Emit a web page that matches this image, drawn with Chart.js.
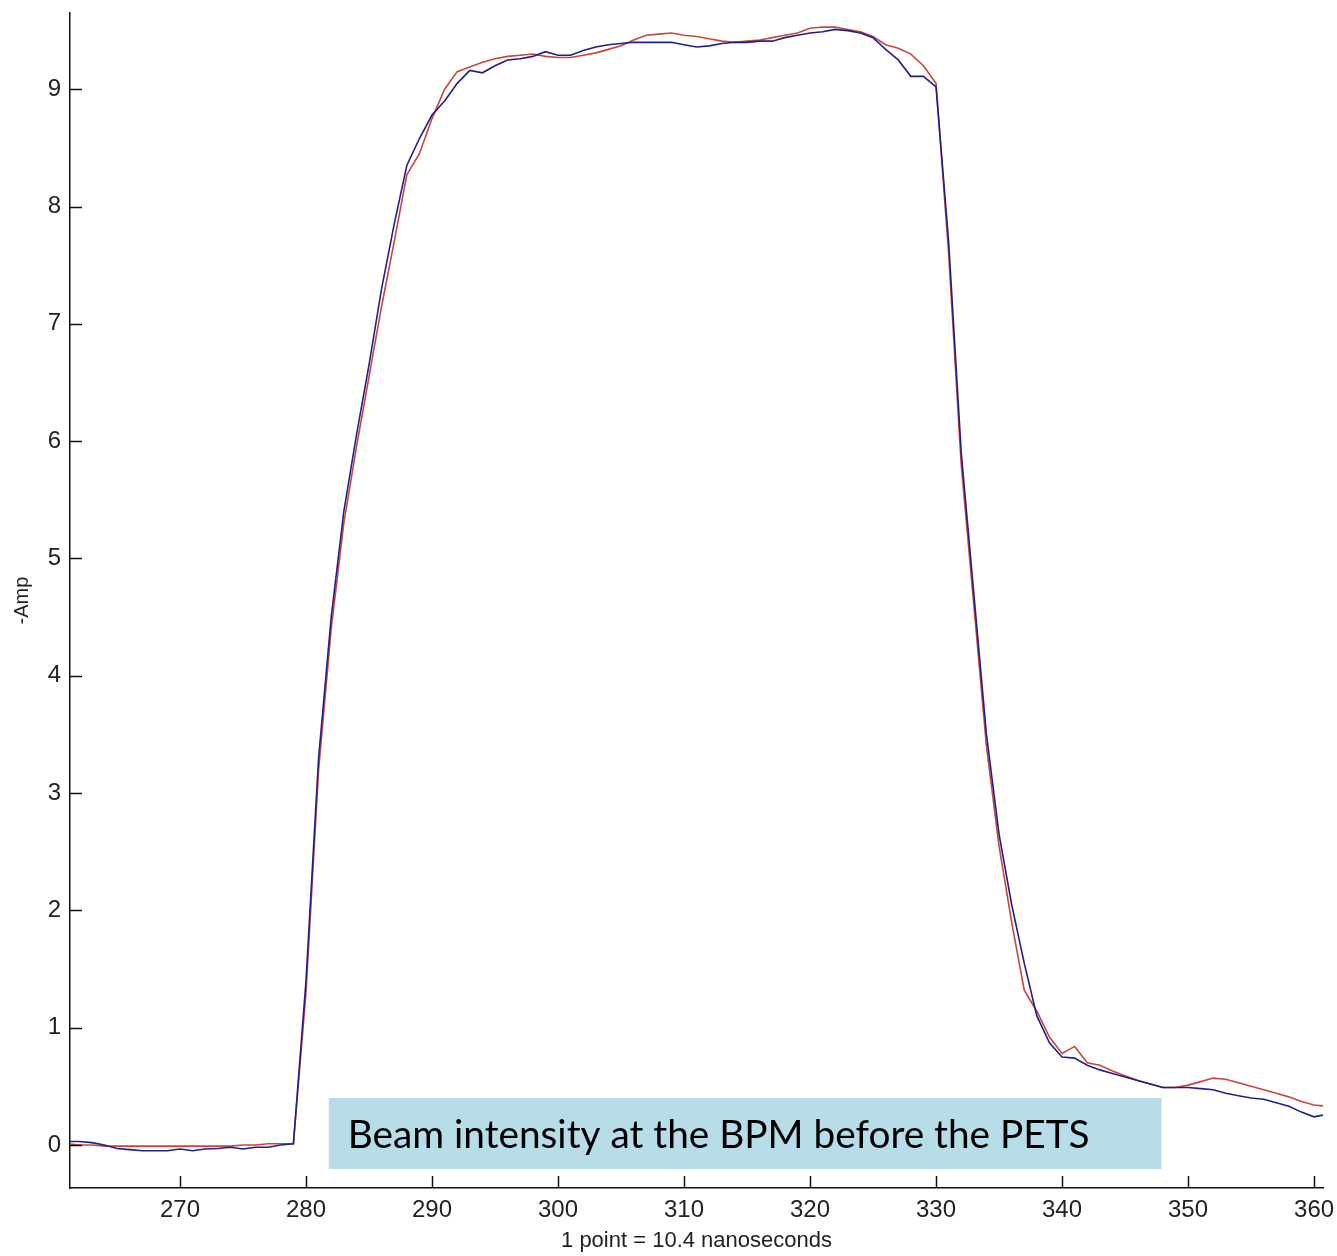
<!DOCTYPE html>
<html>
<head>
<meta charset="utf-8">
<script src="https://cdn.jsdelivr.net/npm/chart.js@4.4.1/dist/chart.umd.min.js"></script>
<style>
  body { margin: 0; background: #fff; }
  #wrap { width: 1337px; height: 1256px; position: relative; }
</style>
</head>
<body>
<div id="wrap"><canvas id="chart"></canvas></div>
<script>
// sample numbers start at 261, one value per point
var startPoint = 261;

var blueValues = [
  0.03, 0.03, 0.02, 0.0, -0.03, -0.04, -0.05, -0.05, -0.05, -0.035,
  -0.05, -0.035, -0.03, -0.02, -0.035, -0.02, -0.02, 0.0, 0.01,
  1.4, 3.3, 4.5, 5.4, 6.05, 6.65, 7.3, 7.85, 8.35, 8.58, 8.78,
  8.9, 9.05, 9.16, 9.14, 9.2, 9.25, 9.26, 9.28, 9.32, 9.29,
  9.29, 9.33, 9.36, 9.38, 9.39, 9.40, 9.40, 9.40, 9.40, 9.38,
  9.36, 9.37, 9.39, 9.40, 9.40, 9.41, 9.41, 9.44, 9.46, 9.48,
  9.49, 9.51, 9.50, 9.48, 9.44, 9.34, 9.25, 9.11, 9.11, 9.02,
  7.7, 5.9, 4.7, 3.5, 2.65, 2.05, 1.55, 1.1, 0.87, 0.75,
  0.74, 0.68, 0.64, 0.61, 0.58, 0.55, 0.52, 0.49, 0.49, 0.49,
  0.48, 0.47, 0.44, 0.42, 0.40, 0.39, 0.36, 0.33, 0.28, 0.24, 0.26
];

var redValues = [
  0.01, 0.0, 0.0, -0.01, -0.01, -0.01, -0.01, -0.01, -0.01, -0.01,
  -0.01, -0.01, -0.01, -0.01, 0.0, 0.0, 0.01, 0.01, 0.01,
  1.3, 3.2, 4.4, 5.3, 5.95, 6.55, 7.15, 7.7, 8.27, 8.45, 8.75,
  9.0, 9.15, 9.19, 9.23, 9.26, 9.28, 9.29, 9.30, 9.28, 9.27,
  9.27, 9.29, 9.31, 9.34, 9.37, 9.42, 9.46, 9.47, 9.48, 9.46,
  9.45, 9.43, 9.41, 9.40, 9.41, 9.42, 9.44, 9.46, 9.48, 9.52,
  9.53, 9.53, 9.51, 9.49, 9.45, 9.38, 9.35, 9.30, 9.20, 9.05,
  7.6, 5.8, 4.6, 3.4, 2.55, 1.9, 1.32, 1.14, 0.92, 0.78,
  0.84, 0.70, 0.68, 0.63, 0.59, 0.55, 0.52, 0.49, 0.49, 0.51,
  0.54, 0.57, 0.56, 0.53, 0.50, 0.47, 0.44, 0.41, 0.37, 0.34, 0.33
];

var xTickValues = [270, 280, 290, 300, 310, 320, 330, 340, 350, 360];
var yTickValues = [0, 1, 2, 3, 4, 5, 6, 7, 8, 9];

var noteText = "Beam intensity at the BPM before the PETS";

function toPoints(values) {
  var pts = [];
  for (var i = 0; i < values.length; i++) {
    pts.push({ x: startPoint + i, y: values[i] });
  }
  return pts;
}

// MATLAB style ticks pointing into the plot
var inwardTicks = {
  id: "inwardTicks",
  afterDraw: function (chart) {
    var ctx = chart.ctx;
    var area = chart.chartArea;
    var xs = chart.scales.x, ys = chart.scales.y;
    ctx.save();
    ctx.strokeStyle = "#111";
    ctx.lineWidth = 1.5;
    ctx.beginPath();
    xTickValues.forEach(function (v) {
      var px = Math.round(xs.getPixelForValue(v)) + 0.5;
      ctx.moveTo(px, area.bottom);
      ctx.lineTo(px, area.bottom - 12);
    });
    yTickValues.forEach(function (v) {
      var py = Math.round(ys.getPixelForValue(v)) + 0.5;
      ctx.moveTo(area.left, py);
      ctx.lineTo(area.left + 12, py);
    });
    ctx.stroke();
    ctx.restore();
  }
};

// text box pasted over the plot
var noteBox = {
  id: "noteBox",
  afterDraw: function (chart) {
    var ctx = chart.ctx;
    var xs = chart.scales.x, ys = chart.scales.y;
    var left = xs.getPixelForValue(281.8);
    var right = xs.getPixelForValue(347.9);
    var top = ys.getPixelForValue(0.40);
    var bottom = ys.getPixelForValue(-0.205);
    ctx.save();
    ctx.fillStyle = "#b7dde8";
    ctx.fillRect(left, top, right - left, bottom - top);
    var size = 36;
    ctx.font = size + "px Lato, 'Open Sans', sans-serif";
    var w = ctx.measureText(noteText).width;
    size = size * 742 / w;
    ctx.font = size + "px Lato, 'Open Sans', sans-serif";
    ctx.fillStyle = "#000";
    ctx.textBaseline = "alphabetic";
    ctx.fillText(noteText, left + 19, bottom - 21);
    ctx.restore();
  }
};

var ctx = document.getElementById("chart").getContext("2d");
var myChart = new Chart(ctx, {
  type: "line",
  data: {
    datasets: [
      {
        label: "blue",
        data: toPoints(blueValues),
        borderColor: "#20208a",
        borderWidth: 1.6,
        pointRadius: 0,
        tension: 0,
        fill: false
      },
      {
        label: "red",
        data: toPoints(redValues),
        borderColor: "#c8463c",
        borderWidth: 1.6,
        pointRadius: 0,
        tension: 0,
        fill: false
      }
    ]
  },
  options: {
    responsive: true,
    maintainAspectRatio: false,
    animation: false,
    layout: { padding: { top: 13, right: 14, left: 0, bottom: 0 } },
    plugins: {
      legend: { display: false },
      tooltip: { enabled: false }
    },
    scales: {
      x: {
        type: "linear",
        min: 261.27,
        max: 360.71,
        afterBuildTicks: function (scale) {
          scale.ticks = xTickValues.map(function (v) { return { value: v }; });
        },
        afterFit: function (scale) {
          scale.height = 68;
          scale.paddingLeft = 0;
          scale.paddingRight = 0;
        },
        grid: { display: false, drawTicks: false },
        border: { display: true, color: "#111", width: 1.5 },
        ticks: {
          autoSkip: false,
          maxRotation: 0,
          padding: 8,
          color: "#222",
          font: { family: "'Liberation Sans', Arial, sans-serif", size: 24 }
        },
        title: {
          display: true,
          text: "1 point = 10.4 nanoseconds",
          color: "#222",
          padding: { top: 0, bottom: 2 },
          font: { family: "'Liberation Sans', Arial, sans-serif", size: 22 }
        }
      },
      y: {
        type: "linear",
        min: -0.367,
        max: 9.65,
        afterBuildTicks: function (scale) {
          scale.ticks = yTickValues.map(function (v) { return { value: v }; });
        },
        afterFit: function (scale) {
          scale.width = 70;
          scale.paddingTop = 0;
          scale.paddingBottom = 0;
        },
        grid: { display: false, drawTicks: false },
        border: { display: true, color: "#111", width: 1.5 },
        ticks: {
          padding: 9,
          color: "#222",
          font: { family: "'Liberation Sans', Arial, sans-serif", size: 24 }
        },
        title: {
          display: true,
          text: "-Amp",
          color: "#222",
          padding: { top: 10, bottom: 0 },
          font: { family: "'Liberation Sans', Arial, sans-serif", size: 20 }
        }
      }
    }
  },
  plugins: [inwardTicks, noteBox]
});
</script>
</body>
</html>
